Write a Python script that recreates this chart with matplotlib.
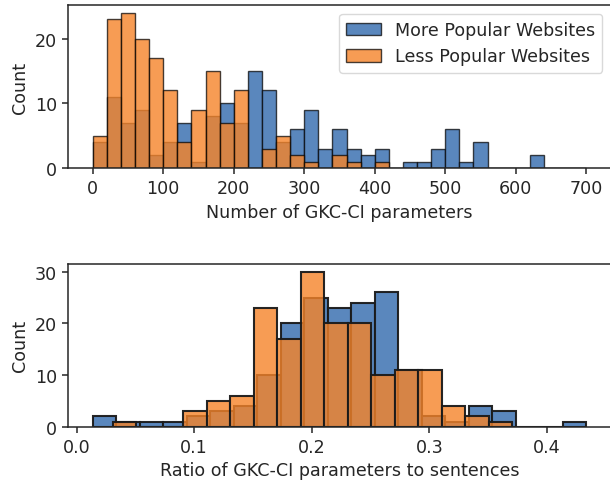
import numpy as np
import matplotlib
matplotlib.use("Agg")
import matplotlib.pyplot as plt
from matplotlib.patches import Patch

# ---------------- data ----------------
series_labels = ["More Popular Websites", "Less Popular Websites"]

# Top: number of GKC-CI parameters (bins of width 20 from 0 to 700)
param_bin_edges = np.linspace(0, 700, 36)
more_param_counts = [4, 11, 7, 9, 2, 4, 7, 1, 8, 10, 7, 15, 12, 4, 6, 9, 3, 6,
                     3, 2, 3, 0, 1, 1, 3, 6, 1, 4, 0, 0, 0, 2, 0, 0, 0]
less_param_counts = [5, 23, 24, 20, 17, 12, 4, 9, 15, 7, 12, 0, 3, 5, 2, 1, 0, 2,
                     1, 0, 1, 0, 0, 0, 0, 0, 0, 0, 0, 0, 0, 0, 0, 0, 0]

# Bottom: ratio of GKC-CI parameters to sentences (each series has its own bins)
more_ratio_edges = np.linspace(0.0136, 0.4336, 22)
more_ratio_counts = [2, 1, 1, 1, 2, 3, 4, 10, 20, 25, 23, 24, 26, 11, 2, 1, 4, 3, 0, 0, 1]
less_ratio_edges = np.linspace(0.0307, 0.3707, 18)
less_ratio_counts = [1, 0, 0, 3, 5, 6, 23, 17, 30, 20, 20, 10, 11, 11, 4, 2, 1]

top_xticks = [0, 100, 200, 300, 400, 500, 600, 700]
top_yticks = [0, 10, 20]
bot_xticks = [0.0, 0.1, 0.2, 0.3, 0.4]
bot_yticks = [0, 10, 20, 30]

# ---------------- style ----------------
TXT = "#262626"
FS = 12.6
BLUE = "#5A87BD"
ORANGE = (0.965, 0.518, 0.161)
ORANGE_ALPHA = 0.8

plt.rcParams["font.family"] = ["DejaVu Sans"]
plt.rcParams["text.color"] = TXT
plt.rcParams["axes.labelcolor"] = TXT
plt.rcParams["xtick.color"] = TXT
plt.rcParams["ytick.color"] = TXT

fig = plt.figure(figsize=(6.1, 4.85), dpi=100)
W, H = 610, 485
ax1 = fig.add_axes([68 / W, (H - 169) / H, (611 - 68) / W, (169 - 6) / H])
ax2 = fig.add_axes([68 / W, (H - 427.7) / H, (611 - 68) / W, (427.7 - 265) / H])


def draw(ax, edges_b, counts_b, edges_o, counts_o, lw, ec):
    edges_b = np.asarray(edges_b)
    edges_o = np.asarray(edges_o)
    mid_b = (edges_b[:-1] + edges_b[1:]) / 2
    mid_o = (edges_o[:-1] + edges_o[1:]) / 2
    ax.hist(mid_b, bins=edges_b, weights=counts_b, facecolor=BLUE,
            edgecolor=ec, linewidth=lw)
    ax.hist(mid_o, bins=edges_o, weights=counts_o,
            facecolor=(*ORANGE, ORANGE_ALPHA), edgecolor=ec, linewidth=lw)


draw(ax1, param_bin_edges, more_param_counts, param_bin_edges, less_param_counts,
     1.0, (0, 0, 0, 0.72))
draw(ax2, more_ratio_edges, more_ratio_counts, less_ratio_edges, less_ratio_counts,
     1.5, (0.1, 0.1, 0.1, 0.95))

ax1.set_xlim(-35, 735)
ax1.set_ylim(0, 25.2)
ax2.set_xlim(-0.0074, 0.4546)
ax2.set_ylim(0, 31.5)

ax1.set_xticks(top_xticks)
ax1.set_yticks(top_yticks)
ax2.set_xticks(bot_xticks)
ax2.set_xticklabels([f"{v:.1f}" for v in bot_xticks])
ax2.set_yticks(bot_yticks)

ax1.set_xlabel("Number of GKC-CI parameters", fontsize=FS)
ax2.set_xlabel("Ratio of GKC-CI parameters to sentences", fontsize=FS)
for ax in (ax1, ax2):
    ax.set_ylabel("Count", fontsize=FS)
    ax.tick_params(labelsize=FS, length=4.5, width=1.1, color=TXT)
    for sp in ax.spines.values():
        sp.set_linewidth(1.1)
        sp.set_color(TXT)

handles = [Patch(facecolor=BLUE, edgecolor=(0, 0, 0, 0.72), linewidth=1.0),
           Patch(facecolor=(*ORANGE, ORANGE_ALPHA), edgecolor=(0, 0, 0, 0.72), linewidth=1.0)]
leg = ax1.legend(handles, series_labels, loc="upper right", fontsize=FS,
                 frameon=True, fancybox=True)
leg.get_frame().set_edgecolor("#d0d0d0")

fig.savefig("out.png", dpi=100)
